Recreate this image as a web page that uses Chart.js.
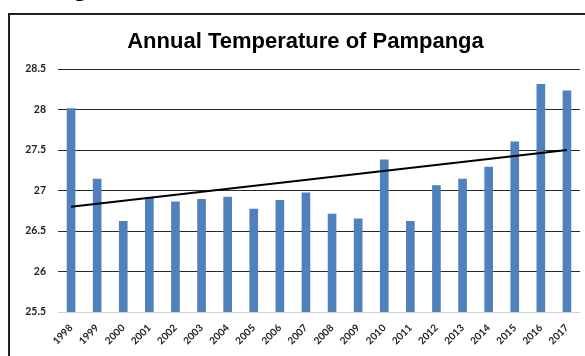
<!DOCTYPE html>
<html>
<head>
<meta charset="utf-8">
<script src="https://cdn.jsdelivr.net/npm/chart.js@4/dist/chart.umd.min.js"></script>
<style>
  html, body { margin: 0; padding: 0; width: 585px; height: 356px; overflow: hidden; background: #fff; }
  #heading {
    position: absolute; left: 55px; top: -22.5px;
    font: bold 22px "Liberation Serif", serif; line-height: 22px; color: #000;
    white-space: nowrap;
  }
  #frame {
    position: absolute; left: 8px; top: 13px; width: 620px; height: 400px;
    border: 2px solid #222; box-sizing: border-box; background: #fff;
  }
  #wrap { position: absolute; left: 10px; top: 15px; width: 591px; height: 360px; }
</style>
</head>
<body>
<div id="heading">Figure</div>
<div id="frame"></div>
<div id="wrap"><canvas id="chart"></canvas></div>
<script>
// Yearly mean temperature (°C)
const years = ['1998','1999','2000','2001','2002','2003','2004','2005','2006','2007',
               '2008','2009','2010','2011','2012','2013','2014','2015','2016','2017'];
const temperatures = [28.01, 27.14, 26.62, 26.91, 26.86, 26.89, 26.92, 26.77, 26.88, 26.97,
                      26.71, 26.65, 27.38, 26.62, 27.06, 27.14, 27.29, 27.60, 28.31, 28.23];
// Linear trend line end points (first and last year)
const trendStart = 26.80;
const trendEnd = 27.50;
const yTicks = [25.5, 26, 26.5, 27, 27.5, 28, 28.5];

const trendData = years.map((_, i) => i === 0 ? trendStart : (i === years.length - 1 ? trendEnd : null));

new Chart(document.getElementById('chart'), {
  data: {
    labels: years,
    datasets: [
      {
        type: 'line',
        data: trendData,
        spanGaps: true,
        borderColor: '#000',
        borderWidth: 2,
        pointRadius: 0,
        fill: false,
        order: 0
      },
      {
        type: 'bar',
        data: temperatures,
        backgroundColor: '#4F81BD',
        barThickness: 8,
        order: 1
      }
    ]
  },
  options: {
    responsive: true,
    maintainAspectRatio: false,
    animation: false,
    layout: { padding: 0 },
    plugins: {
      legend: { display: false },
      tooltip: { enabled: false },
      title: {
        display: true,
        text: 'Annual Temperature of Pampanga',
        color: '#000',
        font: { family: '"Liberation Sans", Arial, sans-serif', size: 22, weight: 'bold', lineHeight: 1.2 },
        padding: { top: 13.3, bottom: 14.3 }
      }
    },
    scales: {
      x: {
        grid: { display: false, drawTicks: false },
        border: { display: false },
        ticks: {
          color: '#222',
          font: { family: 'Lato, "Liberation Sans", sans-serif', size: 10, weight: 'bold' },
          minRotation: 45, maxRotation: 45,
          padding: 10,
          autoSkip: false
        },
        afterFit: (s) => { s.height = 63; }
      },
      y: {
        min: 25.5, max: 28.5,
        afterBuildTicks: (s) => { s.ticks = yTicks.map(v => ({ value: v })); },
        grid: {
          drawTicks: false,
          color: (ctx) => (ctx.tick && ctx.tick.value === 25.5) ? '#cfcfcf' : '#2a2a2a',
          lineWidth: 1
        },
        border: { display: false },
        ticks: {
          color: '#222',
          font: { family: 'Lato, "Liberation Sans", sans-serif', size: 10.5, weight: 'bold' },
          padding: 12,
          callback: (v) => String(v)
        },
        afterFit: (s) => { s.width = 48; }
      },
      // empty margin on the right of the plot
      yRight: {
        position: 'right',
        display: true,
        grid: { display: false, drawTicks: false },
        border: { display: false },
        ticks: { display: false },
        afterFit: (s) => { s.width = 21; }
      }
    }
  }
});
</script>
</body>
</html>
